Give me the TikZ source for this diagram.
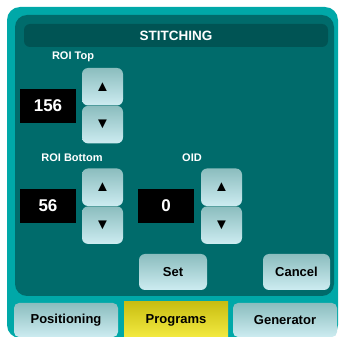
\documentclass[tikz,border=0pt]{standalone}
\usepackage{fontspec}
\setmainfont{Liberation Sans}
\usetikzlibrary{positioning}

\definecolor{frameteal}{HTML}{00A8A8}
\definecolor{panelteal}{HTML}{006B6B}
\definecolor{titleteal}{HTML}{005454}
\definecolor{btntop}{HTML}{8BBDBE}
\definecolor{btnbot}{HTML}{CDECF1}
\definecolor{tabtop}{HTML}{C9BE12}
\definecolor{tabbot}{HTML}{F4EB42}

\begin{document}
\begin{tikzpicture}[
    x=1pt, y=-1pt,
    btn/.style={rounded corners=6pt, top color=btntop, bottom color=btnbot, text=black,
        font=\fontsize{13}{15}\selectfont\bfseries, inner sep=0pt},
    spin/.style={btn, minimum width=41pt, minimum height=37.5pt, font=\fontsize{15}{17}\selectfont},
    valbox/.style={fill=black, text=white, minimum width=56pt, minimum height=34pt,
        font=\fontsize{17}{19}\selectfont\bfseries, inner sep=0pt},
    caption/.style={text=white, font=\fontsize{11}{13}\selectfont\bfseries, inner sep=0pt},
    tab/.style={btn, minimum width=104pt, minimum height=34pt, rounded corners=5pt}
]
    \useasboundingbox (0,0) rectangle (341,337);

    % Rahmen und Fläche
    \fill[frameteal, rounded corners=13pt] (7,7) rectangle (338,338);
    \fill[panelteal, rounded corners=12pt] (15,15) rectangle (334,296);
    \fill[titleteal, rounded corners=6pt] (24,24) rectangle (328,47);
    \node[text=white, font=\fontsize{13.5}{15}\selectfont\bfseries] (title) at (176,36) {STITCHING};

    % ROI Top
    \node[caption] (lbltop) at (73,57) {ROI Top};
    \node[valbox] (valtop) at (48,106) {156};
    \node[spin] (topup) at (102.5,86.75) {▲};
    \node[spin, below=0pt of topup] (topdown) {▼};

    % ROI Bottom
    \node[caption] (lblbottom) at (72,158) {ROI Bottom};
    \node[valbox] (valbottom) at (48,206) {56};
    \node[spin] (bottomup) at (102.5,187.25) {▲};
    \node[spin, below=0pt of bottomup] (bottomdown) {▼};

    % OID
    \node[caption] (lbloid) at (192,158) {OID};
    \node[valbox] (valoid) at (166,206) {0};
    \node[spin] (oidup) at (221.5,187.25) {▲};
    \node[spin, below=0pt of oidup] (oiddown) {▼};

    % Knöpfe
    \node[btn, minimum width=68pt, minimum height=36pt] (set) at (173,272) {Set};
    \node[btn, minimum width=67pt, minimum height=36pt] (cancel) at (296.5,272) {Cancel};

    % Reiter
    \node[tab] (positioning) at (66,320) {Positioning};
    \node[tab, rounded corners=0pt, top color=tabtop, bottom color=tabbot, minimum height=36pt] (programs) at (176,320) {Programs};
    \node[tab] (generator) at (285,320) {Generator};
\end{tikzpicture}
\end{document}
